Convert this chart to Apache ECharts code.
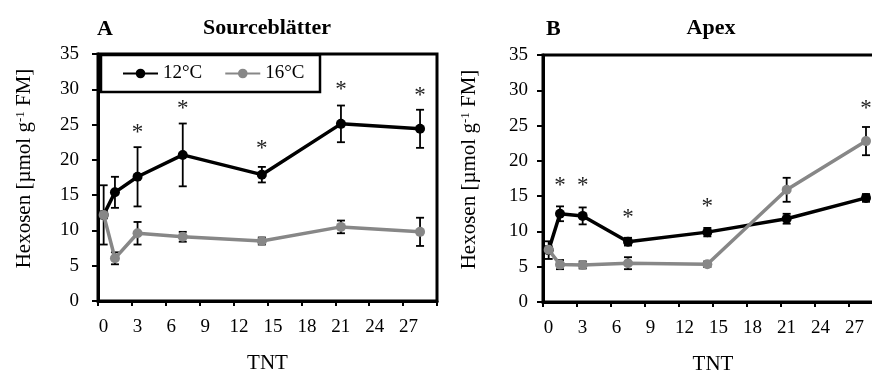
<!DOCTYPE html>
<html>
<head>
<meta charset="utf-8">
<script src="https://cdn.jsdelivr.net/npm/echarts@6/dist/echarts.min.js"></script>
<style>
html,body{margin:0;padding:0;background:#fff;}
#chart{width:872px;height:371px;}
</style>
</head>
<body>
<div id="chart"></div>
<script>
// ---- data ----
const days = [0, 1, 3, 7, 14, 21, 28];
const seriesNames = ['12°C', '16°C'];
const panelTitles = ['Sourceblätter', 'Apex'];
const panelLetters = ['A', 'B'];
const xAxisName = 'TNT';

// Panel A: Sourceblätter
const srcMean12 = [12.2, 15.4, 17.6, 20.7, 17.9, 25.1, 24.4];
const srcErr12  = [4.2, 2.2, 4.2, 4.45, 1.1, 2.6, 2.7];
const srcMean16 = [12.2, 6.05, 9.6, 9.1, 8.5, 10.5, 9.8];
const srcErr16  = [0.5, 0.85, 1.6, 0.7, 0.5, 0.9, 2.0];
const srcStarDays = [3, 7, 14, 21, 28];
const srcStarY    = [24.2, 27.6, 22.0, 30.3, 29.5];

// Panel B: Apex
const apxMean12 = [7.35, 12.5, 12.2, 8.55, 9.9, 11.8, 14.75];
const apxErr12  = [1.25, 1.05, 1.2, 0.55, 0.6, 0.7, 0.55];
const apxMean16 = [7.4, 5.3, 5.25, 5.5, 5.35, 15.9, 22.8];
const apxErr16  = [0.5, 0.65, 0.5, 0.85, 0.4, 1.7, 2.0];
const apxStarDays = [1, 3, 7, 14, 28];
const apxStarY    = [16.8, 16.8, 12.35, 13.9, 27.85];

// ---- layout / style ----
const FONT = '"Liberation Serif", "Times New Roman", serif';
const X_SHIFT = 0.5; // points plotted between ticks as in the original
const BLACK = '#000000';
const GRAY = '#878787';

function pts(mean) { return days.map((d, i) => [d + X_SHIFT, mean[i]]); }
function errPts(mean, err) { return days.map((d, i) => [d + X_SHIFT, mean[i], err[i]]); }
function starPts(sd, sy) { return sd.map((d, i) => [d + X_SHIFT, sy[i]]); }

function errRender(params, api) {
  const x = api.value(0), y = api.value(1), e = api.value(2);
  const t = api.coord([x, y + e]);
  const b = api.coord([x, y - e]);
  const hw = 4;
  const st = { stroke: BLACK, lineWidth: 1.8 };
  return {
    type: 'group',
    children: [
      { type: 'line', shape: { x1: t[0], y1: t[1], x2: b[0], y2: b[1] }, style: st },
      { type: 'line', shape: { x1: t[0] - hw, y1: t[1], x2: t[0] + hw, y2: t[1] }, style: st },
      { type: 'line', shape: { x1: b[0] - hw, y1: b[1], x2: b[0] + hw, y2: b[1] }, style: st }
    ]
  };
}
function starRender(params, api) {
  const c = api.coord([api.value(0), api.value(1)]);
  return {
    type: 'text', x: c[0], y: c[1] + 3,
    style: { text: '*', fill: '#222', font: '23px ' + FONT, align: 'center', verticalAlign: 'middle' }
  };
}

const grids = [
  { left: 98, top: 54, width: 339, height: 247 },
  { left: 543, top: 55, width: 340, height: 247 }
];

function xAx(i) {
  return {
    type: 'value', gridIndex: i, min: 0, max: 30, interval: 3,
    name: xAxisName, nameLocation: 'middle', nameGap: 52,
    nameTextStyle: { fontFamily: FONT, fontSize: 21, color: BLACK },
    axisLine: { lineStyle: { color: BLACK, width: 3 } },
    axisTick: { show: true, inside: false, length: 5, lineStyle: { color: BLACK, width: 2 } },
    axisLabel: {
      fontFamily: FONT, fontSize: 19, color: BLACK, margin: 17,
      padding: [0, 0, 0, 11],
      formatter: v => (v >= 30 ? '' : String(v))
    },
    splitLine: { show: false }
  };
}
function yAx(i, margin) {
  return {
    type: 'value', gridIndex: i, min: 0, max: 35, interval: 5,
    name: '{n|Hexosen [µmol g}{s|-1}{n| FM]}',
    nameLocation: 'middle', nameGap: 63, nameRotate: 90,
    nameTextStyle: {
      padding: [0, 0, 0, 18],
      rich: {
        n: { fontFamily: FONT, fontSize: 21, color: BLACK },
        s: { fontFamily: FONT, fontSize: 13, color: BLACK, verticalAlign: 'top', padding: [0, 0, 8, 0] }
      }
    },
    axisLine: { show: true, lineStyle: { color: BLACK, width: 3 } },
    axisTick: { show: true, inside: false, length: 6, lineStyle: { color: BLACK, width: 2 } },
    axisLabel: { fontFamily: FONT, fontSize: 19, color: BLACK, margin: margin },
    splitLine: { show: false }
  };
}

function lineSeries(name, color, data, gi, z) {
  return {
    name: name, type: 'line', xAxisIndex: gi, yAxisIndex: gi, data: data,
    symbol: 'circle', symbolSize: 10, showSymbol: true,
    lineStyle: { color: color, width: 3.5 },
    itemStyle: { color: color },
    z: z, silent: true
  };
}
function errSeries(data, gi) {
  return {
    name: 'err', type: 'custom', xAxisIndex: gi, yAxisIndex: gi, data: data,
    renderItem: errRender, z: 2, silent: true, encode: { x: 0, y: 1 }
  };
}
function starSeries(data, gi) {
  return {
    name: 'sig', type: 'custom', xAxisIndex: gi, yAxisIndex: gi, data: data,
    renderItem: starRender, z: 5, silent: true, encode: { x: 0, y: 1 }
  };
}

const option = {
  animation: false,
  backgroundColor: '#ffffff',
  grid: grids.map(g => Object.assign({
    show: true, borderColor: BLACK, borderWidth: 3, backgroundColor: 'transparent',
    containLabel: false, outerBoundsMode: 'none'
  }, g)),
  xAxis: [xAx(0), xAx(1)],
  yAxis: [yAx(0, 19), yAx(1, 15)],
  legend: {
    data: seriesNames,
    left: 122, top: 64, padding: 0,
    itemWidth: 35, itemHeight: 12, itemGap: 22,
    textStyle: { fontFamily: FONT, fontSize: 19, color: BLACK, padding: [0, 0, 0, 0] },
    z: 20
  },
  graphic: [
    { type: 'rect', z: 15, shape: { x: 101, y: 55, width: 219, height: 37 },
      style: { fill: '#ffffff', stroke: BLACK, lineWidth: 2.5 } },
    { type: 'text', x: 97, y: 29, style: { text: panelLetters[0], font: 'bold 22px ' + FONT, fill: BLACK, align: 'left', verticalAlign: 'middle' } },
    { type: 'text', x: 267, y: 28, style: { text: panelTitles[0], font: 'bold 22px ' + FONT, fill: BLACK, align: 'center', verticalAlign: 'middle' } },
    { type: 'text', x: 546, y: 29, style: { text: panelLetters[1], font: 'bold 22px ' + FONT, fill: BLACK, align: 'left', verticalAlign: 'middle' } },
    { type: 'text', x: 711, y: 28, style: { text: panelTitles[1], font: 'bold 22px ' + FONT, fill: BLACK, align: 'center', verticalAlign: 'middle' } }
  ],
  series: [
    errSeries(errPts(srcMean12, srcErr12), 0),
    errSeries(errPts(srcMean16, srcErr16), 0),
    lineSeries(seriesNames[0], BLACK, pts(srcMean12), 0, 3),
    lineSeries(seriesNames[1], GRAY, pts(srcMean16), 0, 4),
    starSeries(starPts(srcStarDays, srcStarY), 0),
    errSeries(errPts(apxMean12, apxErr12), 1),
    errSeries(errPts(apxMean16, apxErr16), 1),
    lineSeries(seriesNames[0], BLACK, pts(apxMean12), 1, 3),
    lineSeries(seriesNames[1], GRAY, pts(apxMean16), 1, 4),
    starSeries(starPts(apxStarDays, apxStarY), 1)
  ]
};

const chart = echarts.init(document.getElementById('chart'), null, { renderer: 'canvas' });
chart.setOption(option);
</script>
</body>
</html>
